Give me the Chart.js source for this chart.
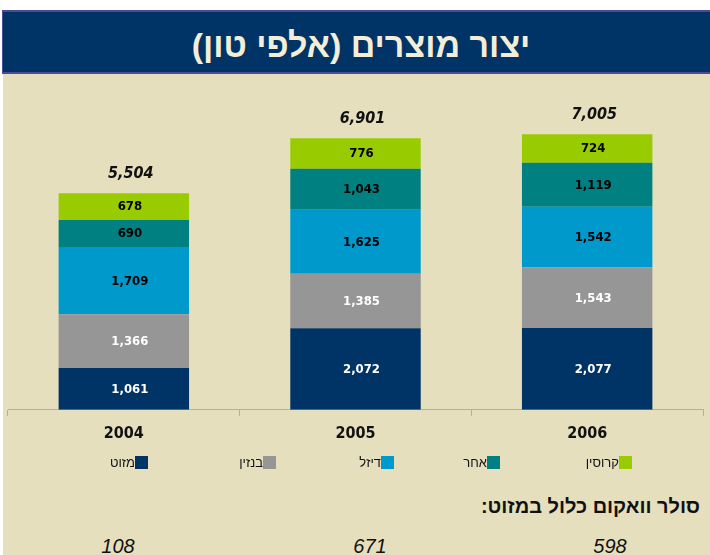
<!DOCTYPE html>
<html><head><meta charset="utf-8">
<script src="https://cdn.jsdelivr.net/npm/chart.js@4/dist/chart.umd.min.js"></script>
<style>
html,body{margin:0;padding:0;background:#fff;width:710px;height:555px;overflow:hidden;position:relative;}
#bg{position:absolute;left:3px;top:74px;width:707px;height:481px;background:#E5DFBE;}
#title{position:absolute;left:2px;top:10px;width:708px;height:60px;box-sizing:content-box;background:#003366;border-top:2px solid #4B4B96;border-bottom:2px solid #4B4B96;border-left:1px solid #4B4B96;
  color:#F3EED8;font:bold 34px "Liberation Sans",Arial,sans-serif;text-align:center;line-height:66px;direction:rtl;}
#title span{position:relative;left:4px;}
#wrap{position:absolute;left:3px;top:75px;width:707px;height:380px;}
#legend{position:absolute;left:0;top:454px;width:710px;height:16px;}
.li{position:absolute;top:0;height:16px;display:flex;flex-direction:row;align-items:center;direction:rtl;font:13px "Liberation Sans",Arial,sans-serif;color:#111;}
.li span.b{width:13px;height:13px;display:inline-block;}
#note{position:absolute;right:10px;top:495px;direction:rtl;font:bold 20px "Liberation Sans",Arial,sans-serif;color:#111;}
.num{position:absolute;top:535px;width:80px;text-align:center;font:italic 20px "Liberation Sans",Arial,sans-serif;color:#111;}
</style></head>
<body>
<div id="bg"></div>
<div id="title"><span>יצור מוצרים (אלפי טון)</span></div>
<div id="wrap"><canvas id="c" width="707" height="380"></canvas></div>
<div id="legend"></div>
<div id="note"></div>
<div id="nums"></div>
<script>
// ---- data ----
const years = ['2004', '2005', '2006'];
const seriesNames = ['מזוט', 'בנזין', 'דיזל', 'אחר', 'קרוסין'];
const mazut = [1061, 2072, 2077];
const benzin = [1366, 1385, 1543];
const diesel = [1709, 1625, 1542];
const other = [690, 1043, 1119];
const kerosene = [678, 776, 724];
const totals = [5504, 6901, 7005];
const vacuumIncluded = [108, 671, 598];
const noteText = 'סולר וואקום כלול במזוט:';

// ---- styles ----
const colors = ['#003366', '#969696', '#0099CC', '#008080', '#99CC00'];
const labelColors = ['#ffffff', '#ffffff', '#000000', '#000000', '#000000'];
const legendRight = [148, 276, 394, 500, 632];
const numCenters = [118, 370, 610];
const labelFont = '"DejaVu Sans Condensed", "DejaVu Sans", Verdana, sans-serif';

const seriesValues = [mazut, benzin, diesel, other, kerosene];
const fmt = v => v.toLocaleString('en-US');

const labelPlugin = {
  id: 'labels',
  afterDatasetsDraw(chart) {
    const ctx = chart.ctx;
    ctx.save();
    ctx.textAlign = 'center';
    ctx.textBaseline = 'middle';
    chart.data.datasets.forEach((ds, i) => {
      const meta = chart.getDatasetMeta(i);
      meta.data.forEach((bar, j) => {
        const top = Math.min(bar.y, bar.base), bot = Math.max(bar.y, bar.base);
        ctx.font = 'bold 13px ' + labelFont;
        ctx.fillStyle = labelColors[i];
        ctx.fillText(fmt(ds.data[j]), bar.x + 6, (top + bot) / 2 + 0.5);
      });
    });
    const lastMeta = chart.getDatasetMeta(chart.data.datasets.length - 1);
    lastMeta.data.forEach((bar, j) => {
      ctx.font = 'italic bold 16px ' + labelFont;
      ctx.fillStyle = '#111';
      ctx.fillText(fmt(totals[j]), bar.x + 7, Math.min(bar.y, bar.base) - 19);
    });
    ctx.restore();
  }
};

new Chart(document.getElementById('c'), {
  type: 'bar',
  data: {
    labels: years,
    datasets: seriesNames.map((n, i) => ({
      label: n,
      data: seriesValues[i],
      backgroundColor: colors[i],
      borderWidth: 0,
      categoryPercentage: 1,
      barPercentage: 0.563
    }))
  },
  options: {
    responsive: false,
    animation: false,
    layout: { padding: { top: 20, left: 5, right: 7, bottom: 4 } },
    plugins: { legend: { display: false }, tooltip: { enabled: false }, title: { display: false } },
    scales: {
      x: {
        stacked: true,
        grid: { display: true, drawOnChartArea: false, drawTicks: true, tickLength: 6, color: '#B8B08E', offset: true },
        border: { display: true, color: '#B8B08E', width: 1 },
        ticks: { color: '#111', padding: 8, font: { family: labelFont, weight: 'bold', size: 16 } }
      },
      y: { stacked: true, display: false, min: 0, max: 8000 }
    }
  },
  plugins: [labelPlugin]
});

// legend (HTML), built from series names and colors
const lg = document.getElementById('legend');
seriesNames.forEach((n, i) => {
  const d = document.createElement('div');
  d.className = 'li';
  d.style.right = (710 - legendRight[i]) + 'px';
  d.innerHTML = '<span class="b" style="background:' + colors[i] + '"></span><span>' + n + '</span>';
  lg.appendChild(d);
});
document.getElementById('note').textContent = noteText;
const nm = document.getElementById('nums');
vacuumIncluded.forEach((v, i) => {
  const d = document.createElement('div');
  d.className = 'num';
  d.style.left = (numCenters[i] - 40) + 'px';
  d.textContent = v;
  nm.appendChild(d);
});
</script>
</body></html>
